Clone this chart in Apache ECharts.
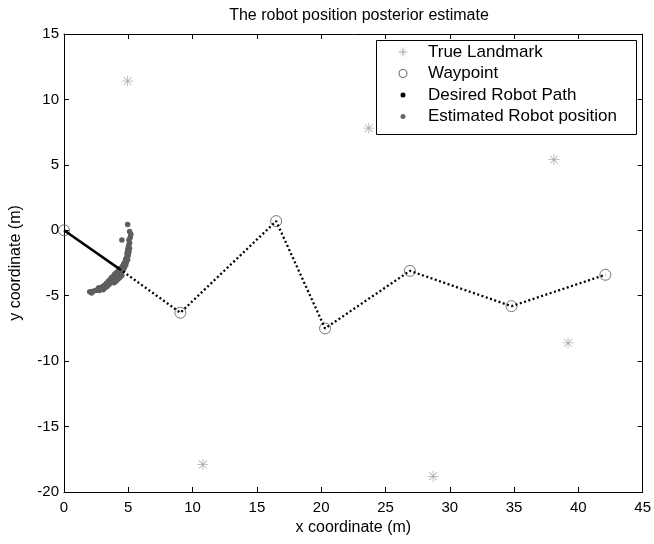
<!DOCTYPE html>
<html>
<head>
<meta charset="utf-8">
<script src="https://cdn.jsdelivr.net/npm/echarts@6/dist/echarts.min.js"></script>
<style>html,body{margin:0;padding:0;background:#fff;}#main{width:654px;height:544px;}</style>
</head>
<body>
<div id="main"></div>
<script>
// ---- data ----
const landmarkX = [4.95, 23.7, 38.1, 39.2, 10.8, 28.7];
const landmarkY = [11.4, 7.8, 5.4, -8.6, -17.9, -18.8];

const waypointX = [0, 9.05, 16.5, 20.3, 26.9, 34.8, 42.1];
const waypointY = [0, -6.3, 0.7, -7.5, -3.1, -5.8, -3.4];

// desired path: solid traversed part, then remaining route through waypoints
const pathDoneX = [0, 4.3];
const pathDoneY = [0, -2.95];
const pathTodoX = [4.3, 9.05, 16.5, 20.3, 26.9, 34.8, 42.1];
const pathTodoY = [-2.95, -6.3, 0.7, -7.5, -3.1, -5.8, -3.4];

const estX = [2.0, 2.15, 2.25, 2.45, 2.6, 2.7, 2.75, 2.9, 3.0, 3.05, 3.15, 3.2,
  3.3, 3.35, 3.45, 3.5, 3.6, 3.65, 3.7, 3.8, 3.85, 3.9, 3.95, 4.0, 4.05, 4.1, 4.15, 4.2, 4.25, 4.3, 4.35, 4.4, 4.45, 4.5, 4.55, 4.6, 4.65,
  4.7, 4.75, 4.8, 4.8, 4.85, 4.9, 4.95, 4.9, 5.0, 4.95, 5.05, 5.0, 5.1, 5.05, 5.1, 5.05, 5.15,
  4.5, 5.1, 4.95, 5.2];
const estY = [-4.7, -4.8, -4.65, -4.6, -4.55, -4.4, -4.6, -4.45, -4.3, -4.55, -4.2, -4.4,
  -4.05, -4.3, -3.9, -4.15, -3.75, -4.0, -3.6, -3.85, -3.5, -4.0, -3.35, -3.7, -3.9, -3.2, -3.5, -3.75, -3.05, -3.35, -3.6, -2.9, -3.2, -3.45, -2.75, -3.05, -2.55,
  -2.85, -2.4, -2.65, -2.2, -2.45, -2.0, -2.25, -1.75, -1.9, -1.5, -1.65, -1.3, -1.4, -1.1, -0.95, -0.75, -0.55,
  -0.75, -0.1, 0.45, -0.3];

const xTicks = [0, 5, 10, 15, 20, 25, 30, 35, 40, 45];
const yTicks = [-20, -15, -10, -5, 0, 5, 10, 15];

const zip = (xs, ys) => xs.map((x, i) => [x, ys[i]]);

// ---- symbols ----
const asterisk = 'path://M0 9.3L20 9.3L20 10.7L0 10.7Z M9.3 0L10.7 0L10.7 20L9.3 20Z M2.4 3.4L3.4 2.4L17.6 16.6L16.6 17.6Z M16.6 2.4L17.6 3.4L3.4 17.6L2.4 16.6Z';
// legend icons in a 43x20 box, centered at (23,10)
const corners = 'M0 0L0.05 0L0.05 0.05Z M43 20L42.95 20L42.95 19.95Z ';
const legAst = 'path://' + corners +
  'M18.5 9.5L27.5 9.5L27.5 10.5L18.5 10.5Z M22.5 5.5L23.5 5.5L23.5 14.5L22.5 14.5Z ' +
  'M19.8 7.1L20.1 6.8L26.2 12.9L25.9 13.2Z M25.9 6.8L26.2 7.1L20.1 13.2L19.8 12.9Z';
const legRing = 'path://' + corners +
  'M27.5 10A4.5 4.5 0 1 1 18.5 10A4.5 4.5 0 1 1 27.5 10Z M26.4 10A3.4 3.4 0 1 0 19.6 10A3.4 3.4 0 1 0 26.4 10Z';
const legDot = 'path://' + corners + 'M25.5 10A2.5 2.5 0 1 1 20.5 10A2.5 2.5 0 1 1 25.5 10Z';

const font = 'Arial, "Liberation Sans", Helvetica, sans-serif';

const chart = echarts.init(document.getElementById('main'), null, {renderer: 'canvas'});

const xAxisBase = {
  type: 'value', min: 0, max: 45, interval: 5,
  splitLine: {show: false},
  axisLine: {show: true, onZero: false, lineStyle: {color: '#000', width: 1}},
  axisTick: {show: true, inside: true, length: 5, lineStyle: {color: '#000'}}
};
const yAxisBase = {
  type: 'value', min: -20, max: 15, interval: 5,
  splitLine: {show: false},
  axisLine: {show: true, onZero: false, lineStyle: {color: '#000', width: 1}},
  axisTick: {show: true, inside: true, length: 5, lineStyle: {color: '#000'}}
};

chart.setOption({
  animation: false,
  backgroundColor: '#fff',
  textStyle: {fontFamily: font},
  title: {
    text: 'The robot position posterior estimate',
    left: 354, top: 3, textAlign: 'center',
    textStyle: {fontFamily: font, fontWeight: 'normal', fontSize: 16, color: '#000'}
  },
  grid: {left: 63, right: 9, top: 34, bottom: 52},
  graphic: [{
    type: 'rect', left: 376, top: 40, z: 10,
    shape: {width: 260, height: 94},
    style: {fill: '#fff', stroke: '#000', lineWidth: 1}
  }],
  legend: {
    orient: 'vertical', left: 380, top: 42, padding: 0,
    itemWidth: 43, itemHeight: 20, itemGap: 1.5,
    z: 11,
    textStyle: {fontFamily: font, fontSize: 17, color: '#000'},
    data: [
      {name: 'True Landmark', icon: legAst, itemStyle: {color: '#9a9a9a', borderWidth: 0}},
      {name: 'Waypoint', icon: legRing, itemStyle: {color: '#4a4a4a', borderWidth: 0}},
      {name: 'Desired Robot Path', icon: legDot, itemStyle: {color: '#000', borderWidth: 0}},
      {name: 'Estimated Robot position', icon: legDot, itemStyle: {color: '#666', borderWidth: 0}}
    ]
  },
  xAxis: [
    Object.assign({}, xAxisBase, {
      position: 'bottom',
      axisLabel: {show: true, margin: 8, fontFamily: font, fontSize: 15, color: '#000',
        formatter: v => xTicks.includes(v) ? String(v) : ''},
      name: 'x coordinate (m)', nameLocation: 'middle', nameGap: 26,
      nameTextStyle: {fontFamily: font, fontSize: 16, color: '#000'}
    }),
    Object.assign({}, xAxisBase, {position: 'top', axisLabel: {show: false}})
  ],
  yAxis: [
    Object.assign({}, yAxisBase, {
      position: 'left',
      axisLabel: {show: true, margin: 5, fontFamily: font, fontSize: 15, color: '#000',
        formatter: v => yTicks.includes(v) ? String(v) : ''},
      name: 'y coordinate (m)', nameLocation: 'middle', nameGap: 40,
      nameTextStyle: {fontFamily: font, fontSize: 16, color: '#000'}
    }),
    Object.assign({}, yAxisBase, {position: 'right', axisLabel: {show: false}})
  ],
  series: [
    {
      name: 'Desired Robot Path', type: 'line', data: zip(pathDoneX, pathDoneY),
      showSymbol: false, symbol: 'none', silent: true,
      lineStyle: {color: '#000', width: 2.5}, itemStyle: {color: '#000'}
    },
    {
      name: 'Desired Robot Path', type: 'line', data: zip(pathTodoX, pathTodoY),
      showSymbol: false, symbol: 'none', silent: true,
      lineStyle: {color: '#000', width: 2.3, type: [2, 2.5]}, itemStyle: {color: '#000'}
    },
    {
      name: 'Estimated Robot position', type: 'scatter', data: zip(estX, estY),
      symbol: 'circle', symbolSize: 5.5,
      itemStyle: {color: '#5e5e5e', opacity: 1}
    },
    {
      name: 'Waypoint', type: 'scatter', data: zip(waypointX, waypointY),
      symbol: 'circle', symbolSize: 11,
      itemStyle: {color: 'rgba(0,0,0,0)', borderColor: '#555', borderWidth: 1}
    },
    {
      name: 'True Landmark', type: 'scatter', data: zip(landmarkX, landmarkY),
      symbol: asterisk, symbolSize: 11,
      itemStyle: {color: '#9a9a9a'}
    }
  ]
});
</script>
</body>
</html>
